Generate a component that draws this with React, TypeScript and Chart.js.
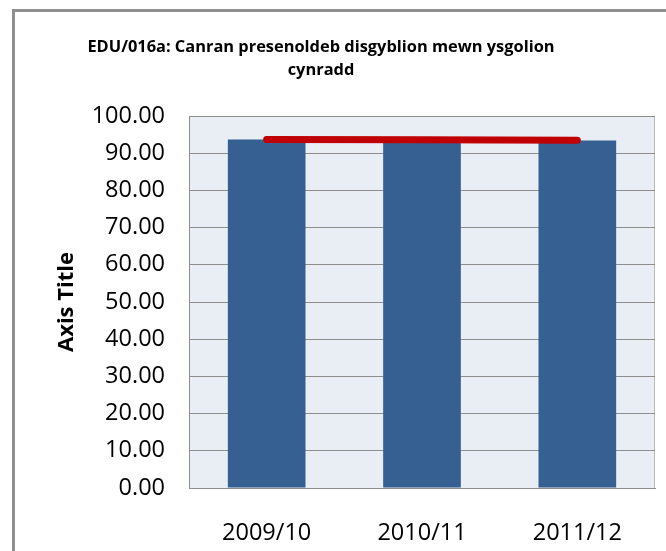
import React, { useEffect, useRef } from "react";
import { Chart, registerables } from "chart.js";

Chart.register(...registerables);

const categories = ["2009/10", "2010/11", "2011/12"];
const barValues = [93.7, 93.6, 93.4];
const lineValues = [93.7, 93.6, 93.5];
const titleLines = ["EDU/016a: Canran presenoldeb disgyblion mewn ysgolion", "cynradd"];
const yAxisTitle = "Axis Title";
const yMin = 0;
const yMax = 100;
const yStep = 10;

const plotBackground = {
  id: "plotBackground",
  beforeDraw(chart: any) {
    const { ctx, chartArea: a } = chart;
    ctx.save();
    ctx.fillStyle = "#E9EDF4";
    ctx.fillRect(a.left, a.top, a.right - a.left, a.bottom - a.top);
    ctx.strokeStyle = "#B8B8B8";
    ctx.lineWidth = 1;
    ctx.beginPath();
    const rx = Math.round(a.right) - 0.5;
    ctx.moveTo(rx, a.top);
    ctx.lineTo(rx, a.bottom);
    ctx.stroke();
    ctx.restore();
  },
};

// Chart title drawn at the same offset-centre as in the reference
const chartTitle = {
  id: "chartTitle",
  afterDraw(chart: any) {
    const { ctx } = chart;
    ctx.save();
    ctx.fillStyle = "#000";
    ctx.font = "bold 16.4px 'Open Sans', sans-serif";
    ctx.textAlign = "center";
    ctx.textBaseline = "middle";
    titleLines.forEach((line, i) => {
      ctx.fillText(line, 306, 35 + i * 23);
    });
    ctx.restore();
  },
};

export default function App() {
  const ref = useRef<HTMLCanvasElement>(null);

  useEffect(() => {
    const tickFont = { family: "'Open Sans', sans-serif", size: 23.5 };
    const chart = new Chart(ref.current as HTMLCanvasElement, {
      type: "bar",
      data: {
        labels: categories,
        datasets: [
          {
            type: "line",
            data: lineValues,
            borderColor: "#C00000",
            backgroundColor: "#C00000",
            borderWidth: 7,
            borderCapStyle: "round",
            borderJoinStyle: "round",
            pointRadius: 0,
            fill: false,
            tension: 0,
            order: 0,
          } as any,
          {
            type: "bar",
            data: barValues,
            backgroundColor: "#376092",
            barPercentage: 0.5,
            categoryPercentage: 1,
            order: 1,
          } as any,
        ],
      },
      plugins: [plotBackground, chartTitle],
      options: {
        responsive: false,
        animation: false,
        devicePixelRatio: 1,
        layout: { padding: { left: 0, right: 22, top: 104, bottom: 0 } },
        plugins: {
          legend: { display: false },
          tooltip: { enabled: false },
          title: { display: false },
        },
        scales: {
          x: {
            grid: { display: false, drawTicks: false },
            border: { display: true, color: "#8E8E8E", width: 1 },
            ticks: { padding: 31, font: tickFont, color: "#000", maxRotation: 0 },
            afterFit: (s: any) => {
              s.height = 63;
            },
          },
          y: {
            min: yMin,
            max: yMax,
            ticks: {
              stepSize: yStep,
              padding: 24,
              font: tickFont,
              color: "#000",
              callback: (v: any) => Number(v).toFixed(2),
            },
            grid: { color: "#8E8E8E", drawTicks: false, lineWidth: 1 },
            border: { display: true, color: "#8E8E8E", width: 1 },
            title: {
              display: true,
              text: yAxisTitle,
              color: "#000",
              font: { family: "'Open Sans', sans-serif", size: 22, weight: "bold" },
              padding: { top: 39, bottom: 0 },
            },
            afterFit: (s: any) => {
              s.width = 174;
            },
          },
        },
      } as any,
    });
    return () => chart.destroy();
  }, []);

  return (
    <div
      style={{
        position: "fixed",
        left: 0,
        top: 0,
        width: 666,
        height: 551,
        overflow: "hidden",
        background: "#fff",
      }}
    >
      <div
        style={{
          position: "absolute",
          left: 12,
          top: 9,
          width: 720,
          height: 620,
          borderLeft: "3px solid #8F8F8F",
          borderTop: "3px solid #8F8F8F",
          background: "#fff",
        }}
      >
        <canvas
          ref={ref}
          width={662}
          height={539}
          style={{ position: "absolute", left: 0, top: 0, width: 662, height: 539 }}
        />
      </div>
    </div>
  );
}
